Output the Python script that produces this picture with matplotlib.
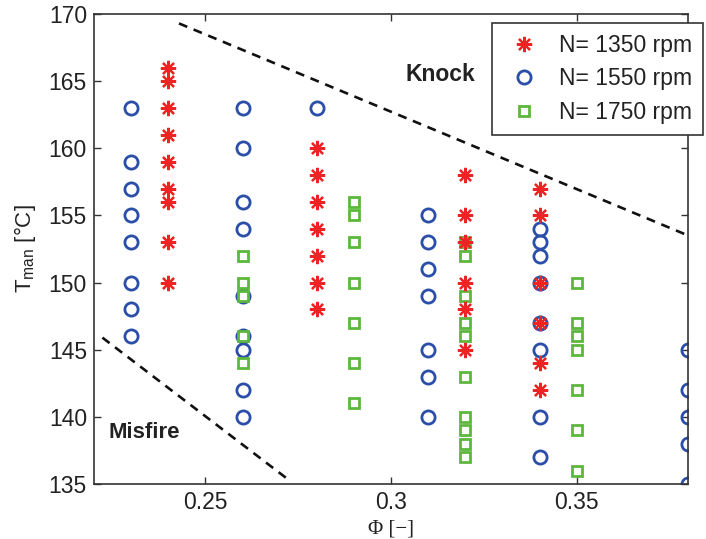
import numpy as np
import matplotlib
matplotlib.use("Agg")
import matplotlib.pyplot as plt

plt.rcParams['font.family'] = ['Liberation Sans', 'DejaVu Sans']
plt.rcParams['mathtext.fontset'] = 'custom'
plt.rcParams['mathtext.rm'] = 'Liberation Sans'

# N = 1350 rpm
phi_1350 = [0.24] * 9 + [0.28] * 7 + [0.32] * 6 + [0.34] * 6
t_1350 = [166, 165, 163, 161, 159, 157, 156, 153, 150,
          160, 158, 156, 154, 152, 150, 148,
          158, 155, 153, 150, 148, 145,
          157, 155, 150, 147, 144, 142]

# N = 1550 rpm
phi_1550 = [0.23] * 8 + [0.26] * 9 + [0.28] + [0.31] * 7 + [0.34] * 8 + [0.38] * 5
t_1550 = [163, 159, 157, 155, 153, 150, 148, 146,
          163, 160, 156, 154, 149, 146, 145, 142, 140,
          163,
          155, 153, 151, 149, 145, 143, 140,
          154, 153, 152, 150, 147, 145, 140, 137,
          145, 142, 140, 138, 135]

# N = 1750 rpm
phi_1750 = [0.26] * 5 + [0.29] * 7 + [0.32] * 10 + [0.35] * 7
t_1750 = [152, 150, 149, 146, 144,
          156, 155, 153, 150, 147, 144, 141,
          153, 152, 149, 147, 146, 143, 140, 139, 138, 137,
          150, 147, 146, 145, 142, 139, 136]

# region boundaries
knock_phi = [0.2429, 0.38]
knock_t = [169.3, 153.5]
misfire_phi = [0.2223, 0.272]
misfire_t = [145.9, 135.4]

fig = plt.figure(figsize=(7.06, 5.39), dpi=100)
ax = fig.add_axes([0.133, 0.102, 0.842, 0.872])

ax.plot(knock_phi, knock_t, color='#111111', ls='--', lw=1.9, dashes=(3.4, 2.6))
ax.plot(misfire_phi, misfire_t, color='#111111', ls='--', lw=1.9, dashes=(3.4, 2.6))

ax.plot(phi_1350, t_1350, ls='none', marker=(8, 2, 0), ms=11, mew=1.6,
        color='#ee2424', label='N= 1350 rpm', zorder=3)
ax.plot(phi_1550, t_1550, ls='none', marker='o', ms=9.5, mew=2,
        mfc='none', mec='#2b4ea8', label='N= 1550 rpm', zorder=2)
ax.plot(phi_1750, t_1750, ls='none', marker='s', ms=7, mew=2,
        mfc='none', mec='#5cb83a', label='N= 1750 rpm', zorder=2)

ax.text(0.3133, 165.5, 'Knock', fontsize=16.5, fontweight='bold', ha='center', va='center',
        color='#222222')
ax.text(0.2238, 138.8, 'Misfire', fontsize=16, fontweight='bold', ha='left', va='center',
        color='#222222')

ax.set_xlim(0.22, 0.38)
ax.set_ylim(135, 170)
ax.set_xticks([0.25, 0.3, 0.35])
ax.set_xticklabels(['0.25', '0.3', '0.35'])
ax.set_yticks(np.arange(135, 171, 5))
ax.tick_params(direction='in', top=True, right=True, labelsize=16.5, length=5, width=1,
               colors='#333333', labelcolor='#222222', pad=5)
for s in ax.spines.values():
    s.set_linewidth(1.2)
    s.set_color('#333333')

ax.set_xlabel('\u03a6 [\u2212]', fontsize=15, labelpad=4, color='#222222',
              family=['Liberation Serif', 'DejaVu Serif'])
ax.set_ylabel(r'T$_{\mathrm{man}}$ [$\degree$C]', fontsize=16, labelpad=8, color='#222222')

leg = ax.legend(loc='upper right', bbox_to_anchor=(0.996, 0.958), bbox_transform=fig.transFigure,
                borderaxespad=0, fontsize=16.5, fancybox=False, framealpha=1, edgecolor='#333333',
                handlelength=1.8, handletextpad=0.6, borderpad=0.5, labelspacing=0.45)
leg.get_frame().set_linewidth(1.2)
for t in leg.get_texts():
    t.set_color('#222222')

fig.savefig('out.png', dpi=100)
